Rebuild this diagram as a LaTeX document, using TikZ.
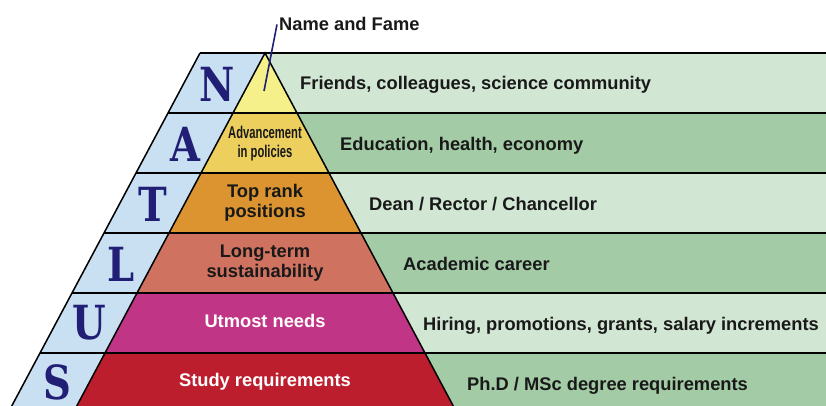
\documentclass[tikz,border=0pt]{standalone}
\usepackage{fontspec}
\usepackage{graphicx}
\usepackage{xcolor}
\setmainfont{Liberation Sans}
\newfontfamily\letterfont{DejaVu Serif}
\usetikzlibrary{positioning}

\definecolor{bluestrip}{RGB}{201,223,242}
\definecolor{greenlight}{RGB}{210,230,212}
\definecolor{greendark}{RGB}{163,203,165}
\definecolor{pyrN}{RGB}{245,240,138}
\definecolor{pyrA}{RGB}{237,207,94}
\definecolor{pyrT}{RGB}{219,148,48}
\definecolor{pyrL}{RGB}{207,114,96}
\definecolor{pyrU}{RGB}{192,53,134}
\definecolor{pyrS}{RGB}{189,30,45}
\definecolor{navy}{RGB}{33,30,118}
\definecolor{textblack}{RGB}{25,25,25}

\newcommand{\narrowletter}[1]{\scalebox{0.82}[1]{#1}}

\begin{document}
\begin{tikzpicture}[x=1pt,y=-1pt]
  \tikzstyle{rowtext}=[font=\bfseries\fontsize{18.3}{20}\selectfont, text=textblack, align=center]
  \tikzstyle{sidetext}=[rowtext, anchor=base west, inner sep=0pt]
  \tikzstyle{letter}=[font=\letterfont\bfseries\fontsize{47}{47}\selectfont, text=navy]
  \tikzstyle{rule}=[line width=1.5pt, black]

  \useasboundingbox (0,0) rectangle (826,406);
  \clip (0,0) rectangle (826,406);

  % right hand bands
  \fill[greenlight] (265,53) -- (826,53) -- (826,113) -- (297,113) -- cycle;
  \fill[greendark]  (297,113) -- (826,113) -- (826,173) -- (329,173) -- cycle;
  \fill[greenlight] (329,173) -- (826,173) -- (826,233) -- (361,233) -- cycle;
  \fill[greendark]  (361,233) -- (826,233) -- (826,293) -- (393,293) -- cycle;
  \fill[greenlight] (393,293) -- (826,293) -- (826,353) -- (425,353) -- cycle;
  \fill[greendark]  (425,353) -- (826,353) -- (826,413) -- (457,413) -- cycle;

  % letter strip
  \fill[bluestrip] (200,53) -- (265,53) -- (73,413) -- (8,413) -- cycle;

  % pyramid layers
  \fill[pyrN] (265,53) -- (297,113) -- (233,113) -- cycle;
  \fill[pyrA] (233,113) -- (297,113) -- (329,173) -- (201,173) -- cycle;
  \fill[pyrT] (201,173) -- (329,173) -- (361,233) -- (169,233) -- cycle;
  \fill[pyrL] (169,233) -- (361,233) -- (393,293) -- (137,293) -- cycle;
  \fill[pyrU] (137,293) -- (393,293) -- (425,353) -- (105,353) -- cycle;
  \fill[pyrS] (105,353) -- (425,353) -- (457,413) -- (73,413) -- cycle;

  % rules
  \draw[rule] (200,53) -- (826,53);
  \draw[rule] (168,113) -- (826,113);
  \draw[rule] (136,173) -- (826,173);
  \draw[rule] (104,233) -- (826,233);
  \draw[rule] (72,293) -- (826,293);
  \draw[rule] (40,353) -- (826,353);
  \draw[rule] (200,53) -- (8,413);
  \draw[rule] (73,413) -- (265,53) -- (457,413);

  % letters
  \node[letter] (N) at (217,84)  {\narrowletter{N}};
  \node[letter] (A) at (185,144) {\narrowletter{A}};
  \node[letter] (T) at (153,204) {\narrowletter{T}};
  \node[letter] (L) at (121,264) {\narrowletter{L}};
  \node[letter] (U) at (89,323)  {\narrowletter{U}};
  \node[letter] (S) at (57,382)  {\narrowletter{S}};

  % pyramid texts
  \node[rowtext, font=\bfseries\fontsize{17}{19}\selectfont] (adv) at (265,144)
    {\scalebox{0.66}[1]{\begin{tabular}{@{}c@{}}Advancement\\in policies\end{tabular}}};
  \node[rowtext] (top)   at (265,203) {Top rank\\positions};
  \node[rowtext] (long)  at (265,263) {Long-term\\sustainability};
  \node[rowtext, text=white] (need)  at (265,321) {Utmost needs};
  \node[rowtext, text=white] (study) at (265,382) {Study requirements};

  % side texts
  \node[sidetext] (fame)    at (279,31)  {Name and Fame};
  \node[sidetext] (friends) at (300,90)  {Friends, colleagues, science community};
  \node[sidetext] (edu)     at (340,150) {Education, health, economy};
  \node[sidetext] (dean)    at (369,210) {Dean / Rector / Chancellor};
  \node[sidetext] (career)  at (403,270) {Academic career};
  \node[sidetext] (hiring)  at (423,330) {Hiring, promotions, grants, salary increments};
  \node[sidetext] (phd)     at (467,390) {Ph.D / MSc degree requirements};

  \coordinate (fameTip) at (264,91);
  \draw[navy, line width=1.6pt] (fameTip) -- ([xshift=-2pt]fame.west);
\end{tikzpicture}
\end{document}
